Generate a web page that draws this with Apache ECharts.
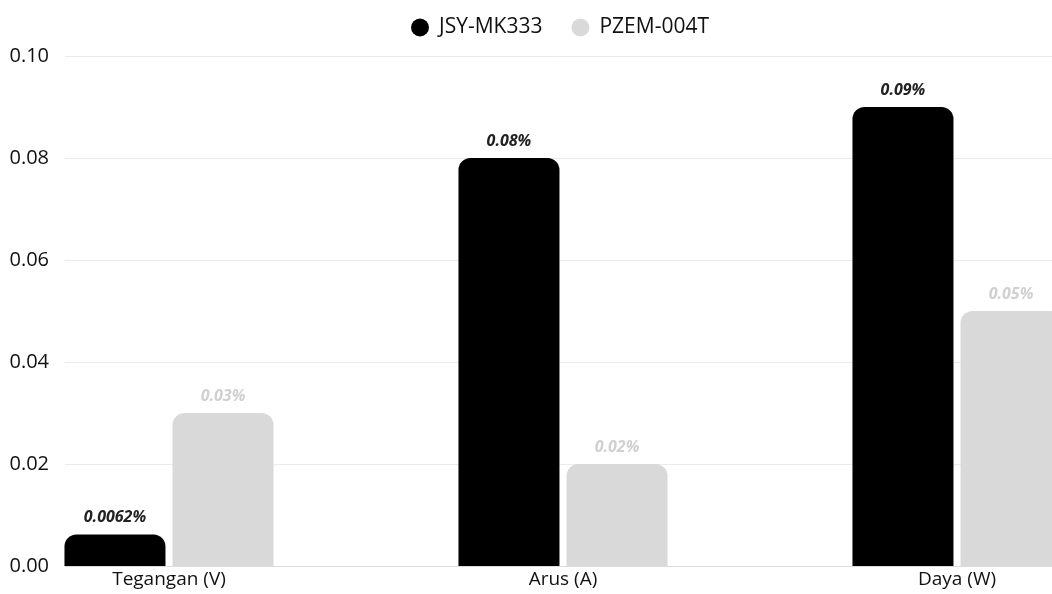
<!DOCTYPE html>
<html>
<head>
<meta charset="utf-8">
<script src="https://cdn.jsdelivr.net/npm/echarts@6/dist/echarts.min.js"></script>
<style>
  html, body { margin: 0; padding: 0; background: #fff; }
  #chart { width: 1052px; height: 594px; }
</style>
</head>
<body>
<div id="chart"></div>
<script>
const categories = ['Tegangan (V)', 'Arus (A)', 'Daya (W)'];
const seriesNames = ['JSY-MK333', 'PZEM-004T'];
const jsyValues = [0.0062, 0.08, 0.09];
const pzemValues = [0.03, 0.02, 0.05];
const yTicks = [0, 0.02, 0.04, 0.06, 0.08, 0.10];

const FONT = '"Open Sans", "Noto Sans", sans-serif';
const BLACK = '#000000';
const GRAY = '#d9d9d9';

const chart = echarts.init(document.getElementById('chart'));

const label = (color) => ({
  show: true, position: 'top', distance: 9,
  formatter: '{c}%', color, fontFamily: FONT,
  fontSize: 16, fontWeight: 'bold', fontStyle: 'italic',
});

chart.setOption({
  animation: false,
  legend: {
    // centred over the plot area, not the canvas
    top: 12, left: 406, itemGap: 29, itemWidth: 28, itemHeight: 18, icon: 'circle',
    data: seriesNames,
    textStyle: { color: '#111', fontSize: 21, fontFamily: FONT },
  },
  grid: [
    { left: 169, right: 95, top: 56, bottom: 28 },
    { left: 65, right: 0, top: 56, bottom: 28 },
  ],
  xAxis: [
    {
      gridIndex: 0, type: 'category', data: categories, boundaryGap: false,
      axisLine: { show: false }, axisTick: { show: false },
      axisLabel: { color: '#111', fontSize: 19, fontFamily: FONT, margin: 4 },
    },
    {
      gridIndex: 1, type: 'value', min: 0, max: 1,
      axisLine: { show: true, onZero: false, lineStyle: { color: '#dcdcdc' } },
      axisTick: { show: false }, axisLabel: { show: false }, splitLine: { show: false },
    },
  ],
  yAxis: [
    { gridIndex: 0, type: 'value', min: 0, max: 0.1, show: false },
    {
      gridIndex: 1, type: 'value', min: yTicks[0], max: yTicks[yTicks.length - 1], interval: 0.02,
      axisLine: { show: false }, axisTick: { show: false },
      axisLabel: {
        color: '#111', fontSize: 20, fontFamily: FONT, margin: 16,
        formatter: (v) => v.toFixed(2),
      },
      splitLine: { lineStyle: { color: '#ebebeb' } },
    },
  ],
  series: [
    {
      name: seriesNames[0], type: 'bar', xAxisIndex: 0, yAxisIndex: 0,
      data: jsyValues, barWidth: 101, barGap: '7%', clip: false,
      itemStyle: { color: BLACK, borderRadius: [12, 12, 0, 0] },
      label: label('#222'), z: 3,
    },
    {
      name: seriesNames[1], type: 'bar', xAxisIndex: 0, yAxisIndex: 0,
      data: pzemValues, barWidth: 101, clip: false,
      itemStyle: { color: GRAY, borderRadius: [12, 12, 0, 0] },
      label: label('#d0d0d0'), z: 3,
    },
  ],
});
</script>
</body>
</html>
